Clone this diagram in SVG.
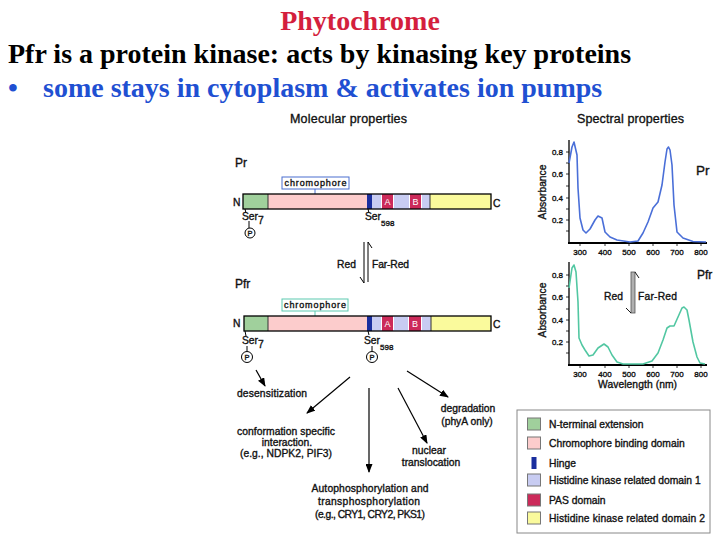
<svg xmlns="http://www.w3.org/2000/svg" width="720" height="540" viewBox="0 0 720 540">
<style>
.h{font-family:"Liberation Serif","Times New Roman",serif;font-weight:bold;font-size:28px}
.t{font-family:"Liberation Sans",Arial,sans-serif;fill:#111;stroke:#111;stroke-width:0.35}
.s12{font-size:12.5px}
.s10{font-size:10.3px}
.s9{font-size:9px}
.s8{font-size:8px}
.ln{stroke:#000;stroke-width:1.2;fill:none}
.ax{stroke:#000;fill:none}
.g{fill:#a0d09c}.p{fill:#fccccc}.hn{fill:#1a2e9e}.lv{fill:#c8ccf2}.r{fill:#cc2a5a}.y{fill:#fafa9c}
.sep{stroke:#fff;stroke-width:1}
.lg{stroke:#777;stroke-width:1}
</style>
<defs>
<marker id="ah" markerWidth="9" markerHeight="7" refX="8" refY="3.5" orient="auto" markerUnits="userSpaceOnUse">
<path d="M0,0 L9,3.5 L0,7 z" fill="#000"/>
</marker>
</defs>
<rect width="720" height="540" fill="#fff"/>

<g id="title">
<text class="h" x="360" y="30" text-anchor="middle" fill="#d41f3d">Phytochrome</text>
<text class="h" x="8" y="63" fill="#000">Pfr is a protein kinase: acts by kinasing key proteins</text>
<text class="h" x="8" y="97" fill="#1f50d2">•</text>
<text class="h" x="43" y="97" fill="#1f50d2">some stays in cytoplasm &amp; activates ion pumps</text>
</g>

<g id="molecular">
<text class="t s12" x="290" y="123" textLength="117">Molecular properties</text>

<g id="pr">
<text class="t" x="235" y="167" font-size="12">Pr</text>
<rect x="282" y="177" width="67" height="12" fill="#fff" stroke="#4a6fd0"/>
<text class="t s9" x="315.5" y="186" text-anchor="middle" textLength="62">chromophore</text>
<line x1="315" y1="189" x2="315" y2="194" stroke="#4a6fd0"/>
<text class="t s10" x="233" y="206">N</text>
<text class="t s10" x="493" y="207">C</text>
<rect class="g" x="243" y="194" width="25" height="15"/>
<rect class="p" x="268" y="194" width="99" height="15"/>
<rect class="hn" x="367" y="194" width="5" height="15"/>
<rect class="lv" x="372" y="194" width="58" height="15"/>
<rect class="r" x="382" y="194" width="11" height="15"/>
<rect class="r" x="410" y="194" width="11" height="15"/>
<line class="sep" x1="381.5" y1="195" x2="381.5" y2="208"/>
<line class="sep" x1="393.5" y1="195" x2="393.5" y2="208"/>
<line class="sep" x1="409.5" y1="195" x2="409.5" y2="208"/>
<line class="sep" x1="421.5" y1="195" x2="421.5" y2="208"/>
<rect class="y" x="430" y="194" width="61" height="15"/>
<line x1="268" y1="194" x2="268" y2="209" stroke="#333"/>
<line x1="430" y1="194" x2="430" y2="209" stroke="#333"/>
<rect x="243" y="194" width="248" height="15" fill="none" stroke="#000" stroke-width="1.3"/>
<text x="387.5" y="205" font-family="Liberation Sans,Arial,sans-serif" font-size="9" fill="#fff" text-anchor="middle">A</text>
<text x="415.5" y="205" font-family="Liberation Sans,Arial,sans-serif" font-size="9" fill="#fff" text-anchor="middle">B</text>
<line x1="245" y1="209" x2="246" y2="213" stroke="#000"/>
<text class="t s10" x="242" y="220">Ser<tspan dy="4">7</tspan></text>
<line x1="368" y1="209" x2="369" y2="213" stroke="#000"/>
<text class="t s10" x="365" y="220">Ser<tspan dy="6" font-size="8">598</tspan></text>
<line x1="249" y1="221" x2="249" y2="228" stroke="#000"/>
<circle cx="250" cy="233" r="5" fill="#fff" stroke="#000"/>
<text class="t" x="250" y="236" font-size="7.5" text-anchor="middle">P</text>
</g>

<g id="photoconversion">
<line x1="364" y1="242" x2="364" y2="283" class="ax"/>
<line x1="360" y1="277" x2="364" y2="283" class="ax"/>
<line x1="368" y1="242" x2="368" y2="282" class="ax"/>
<line x1="368" y1="242" x2="372" y2="248" class="ax"/>
<text class="t s10" x="337" y="268">Red</text>
<text class="t s10" x="372" y="268" textLength="37">Far-Red</text>
</g>

<g id="pfr">
<text class="t" x="235" y="288" font-size="12">Pfr</text>
<rect x="282" y="299" width="66" height="12" fill="#fff" stroke="#5cc9b0"/>
<text class="t s9" x="315" y="308" text-anchor="middle" textLength="62">chromophore</text>
<line x1="315" y1="311" x2="315" y2="316" stroke="#5cc9b0"/>
<text class="t s10" x="233" y="327">N</text>
<text class="t s10" x="493" y="328">C</text>
<rect class="g" x="244" y="316" width="24" height="15"/>
<rect class="p" x="268" y="316" width="99" height="15"/>
<rect class="hn" x="367" y="316" width="5" height="15"/>
<rect class="lv" x="372" y="316" width="59" height="15"/>
<rect class="r" x="382" y="316" width="11" height="15"/>
<rect class="r" x="409" y="316" width="12" height="15"/>
<line class="sep" x1="381.5" y1="317" x2="381.5" y2="330"/>
<line class="sep" x1="393.5" y1="317" x2="393.5" y2="330"/>
<line class="sep" x1="408.5" y1="317" x2="408.5" y2="330"/>
<line class="sep" x1="421.5" y1="317" x2="421.5" y2="330"/>
<rect class="y" x="431" y="316" width="60" height="15"/>
<line x1="268" y1="316" x2="268" y2="331" stroke="#333"/>
<line x1="431" y1="316" x2="431" y2="331" stroke="#333"/>
<rect x="244" y="316" width="247" height="15" fill="none" stroke="#000" stroke-width="1.3"/>
<text x="387.5" y="327" font-family="Liberation Sans,Arial,sans-serif" font-size="9" fill="#fff" text-anchor="middle">A</text>
<text x="415" y="327" font-family="Liberation Sans,Arial,sans-serif" font-size="9" fill="#fff" text-anchor="middle">B</text>
<line x1="245" y1="331" x2="246" y2="336" stroke="#000"/>
<text class="t s10" x="242" y="344">Ser<tspan dy="4">7</tspan></text>
<line x1="368" y1="331" x2="369" y2="335" stroke="#000"/>
<text class="t s10" x="364" y="344">Ser<tspan dy="6" font-size="8">598</tspan></text>
<line x1="247" y1="346" x2="247" y2="351" stroke="#000"/>
<circle cx="247" cy="357" r="5.5" fill="#fff" stroke="#000"/>
<text class="t" x="247" y="360" font-size="7.5" text-anchor="middle">P</text>
<line x1="372" y1="346" x2="372" y2="351" stroke="#000"/>
<circle cx="372" cy="357" r="5.5" fill="#fff" stroke="#000"/>
<text class="t" x="372" y="360" font-size="7.5" text-anchor="middle">P</text>
</g>
</g>

<g id="connectors">
<line class="ln" x1="256" y1="370" x2="265" y2="386" marker-end="url(#ah)"/>
<line class="ln" x1="350" y1="377" x2="307" y2="413" marker-end="url(#ah)"/>
<line class="ln" x1="369" y1="388" x2="369" y2="472" marker-end="url(#ah)"/>
<line class="ln" x1="398" y1="388" x2="427" y2="443" marker-end="url(#ah)"/>
<line class="ln" x1="407" y1="371" x2="448" y2="397" marker-end="url(#ah)"/>
</g>

<g id="outcomes">
<text class="t s10" x="237" y="397" textLength="70">desensitization</text>
<text class="t s10" x="286" y="435" text-anchor="middle" textLength="98">conformation specific</text>
<text class="t s10" x="287" y="446" text-anchor="middle">interaction.</text>
<text class="t s10" x="286" y="457" text-anchor="middle" textLength="92">(e.g., NDPK2, PIF3)</text>
<text class="t s10" x="468" y="412" text-anchor="middle">degradation</text>
<text class="t s10" x="467" y="425" text-anchor="middle">(phyA only)</text>
<text class="t s10" x="429" y="454" text-anchor="middle">nuclear</text>
<text class="t s10" x="431" y="466" text-anchor="middle">translocation</text>
<text class="t s10" x="370" y="492" text-anchor="middle" textLength="117">Autophosphorylation and</text>
<text class="t s10" x="369" y="505" text-anchor="middle" textLength="102">transphosphorylation</text>
<text class="t s10" x="370" y="518" text-anchor="middle" textLength="110">(e.g., CRY1, CRY2, PKS1)</text>
</g>

<g id="legend">
<rect x="517" y="410" width="193" height="123" fill="#fff" stroke="#888"/>
<rect class="g lg" x="527.5" y="418" width="13" height="12"/>
<text class="t s10" x="549" y="428">N-terminal extension</text>
<rect class="p lg" x="527.5" y="437" width="13" height="12"/>
<text class="t s10" x="549" y="447">Chromophore binding domain</text>
<rect class="hn" x="531.5" y="457" width="5" height="12"/>
<text class="t s10" x="549" y="467">Hinge</text>
<rect class="lv lg" x="527.5" y="474" width="13" height="12"/>
<text class="t s10" x="549" y="484">Histidine kinase related domain 1</text>
<rect class="r lg" x="527.5" y="494" width="13" height="12"/>
<text class="t s10" x="549" y="504">PAS domain</text>
<rect class="y lg" x="527.5" y="512" width="13" height="12"/>
<text class="t s10" x="549" y="522" textLength="156">Histidine kinase related domain 2</text>
</g>

<g id="spectral">
<text class="t s12" x="577" y="123" textLength="107">Spectral properties</text>

<g id="plot-pr">
<text class="t s10" transform="translate(546,192) rotate(-90)" text-anchor="middle">Absorbance</text>
<g class="t s8" text-anchor="end">
<text x="563" y="155">0.8</text><text x="563" y="177">0.6</text><text x="563" y="201">0.4</text><text x="563" y="223">0.2</text>
</g>
<g class="t s8" text-anchor="middle">
<text x="580" y="255">300</text><text x="605" y="255">400</text><text x="629" y="255">500</text><text x="653" y="255">600</text><text x="677" y="255">700</text><text x="701" y="255">800</text>
</g>
<path class="ax" stroke-width="0.8" d="M566,152H569M566,163H569M566,174H569M566,186H569M566,198H569M566,209H569M566,220H569M566,231H569M580,243V246M605,243V246M629,243V246M653,243V246M677,243V246M701,243V246"/>
<line class="ax" x1="569" y1="140" x2="569" y2="243" stroke-width="1.3"/>
<line class="ax" x1="568" y1="243" x2="707" y2="243" stroke-width="2"/>
<path fill="none" stroke="#4a6fd8" stroke-width="1.6" stroke-linejoin="round" d="M569,163 L572,147 L574,142 L577,155 L578,188 L580,218 L583,230 L586,233 L590,229 L595,220 L598,216 L602,218 L605,232 L610,237 L617,240 L630,242 L638,241 L643,233 L648,222 L653,208 L658,202 L662,185 L665,162 L667,149 L668.5,147 L670,150 L672,165 L674,205 L677,232 L683,238 L693,241.5 L706,242"/>
<text class="t" x="696" y="175" font-size="13.5">Pr</text>
</g>

<g id="plot-pfr">
<text class="t s10" transform="translate(546,310) rotate(-90)" text-anchor="middle">Absorbance</text>
<g class="t s8" text-anchor="end">
<text x="563" y="278">0.8</text><text x="563" y="300">0.6</text><text x="563" y="323">0.4</text><text x="563" y="345">0.2</text>
</g>
<g class="t s8" text-anchor="middle">
<text x="580" y="377">300</text><text x="605" y="377">400</text><text x="629" y="377">500</text><text x="653" y="377">600</text><text x="677" y="377">700</text><text x="701" y="377">800</text>
</g>
<path class="ax" stroke-width="0.8" d="M566,275H569M566,286H569M566,297H569M566,309H569M566,320H569M566,331H569M566,342H569M566,353H569M580,365V368M605,365V368M629,365V368M653,365V368M677,365V368M701,365V368"/>
<line class="ax" x1="569" y1="262" x2="569" y2="365" stroke-width="1.3"/>
<line class="ax" x1="568" y1="365" x2="707" y2="365" stroke-width="2"/>
<path fill="none" stroke="#52c7a2" stroke-width="1.6" stroke-linejoin="round" d="M569,288 L572,268 L574,265 L576,272 L578,302 L579,338 L582,345 L585,350 L589,356 L593,355 L598,348 L604,344 L608,347 L612,355 L617,362 L623,364 L643,364 L652,361 L658,353 L663,340 L667,328 L670,326 L674,326 L678,317 L682,308 L684,307 L687,310 L689,320 L693,342 L697,357 L700,363 L705,364"/>
<text class="t" x="697" y="279" font-size="12">Pfr</text>
<rect x="631" y="272" width="4" height="41" fill="#b0b0b0" stroke="#555" stroke-width="0.8"/>
<line class="ax" x1="635" y1="272" x2="639" y2="278" stroke-width="0.9"/>
<line class="ax" x1="626" y1="308" x2="631" y2="313" stroke-width="0.9"/>
<text class="t s10" x="604" y="300">Red</text>
<text class="t s10" x="638" y="300" textLength="39">Far-Red</text>
<text class="t s10" x="598" y="388" textLength="79">Wavelength (nm)</text>
</g>
</g>
</svg>
